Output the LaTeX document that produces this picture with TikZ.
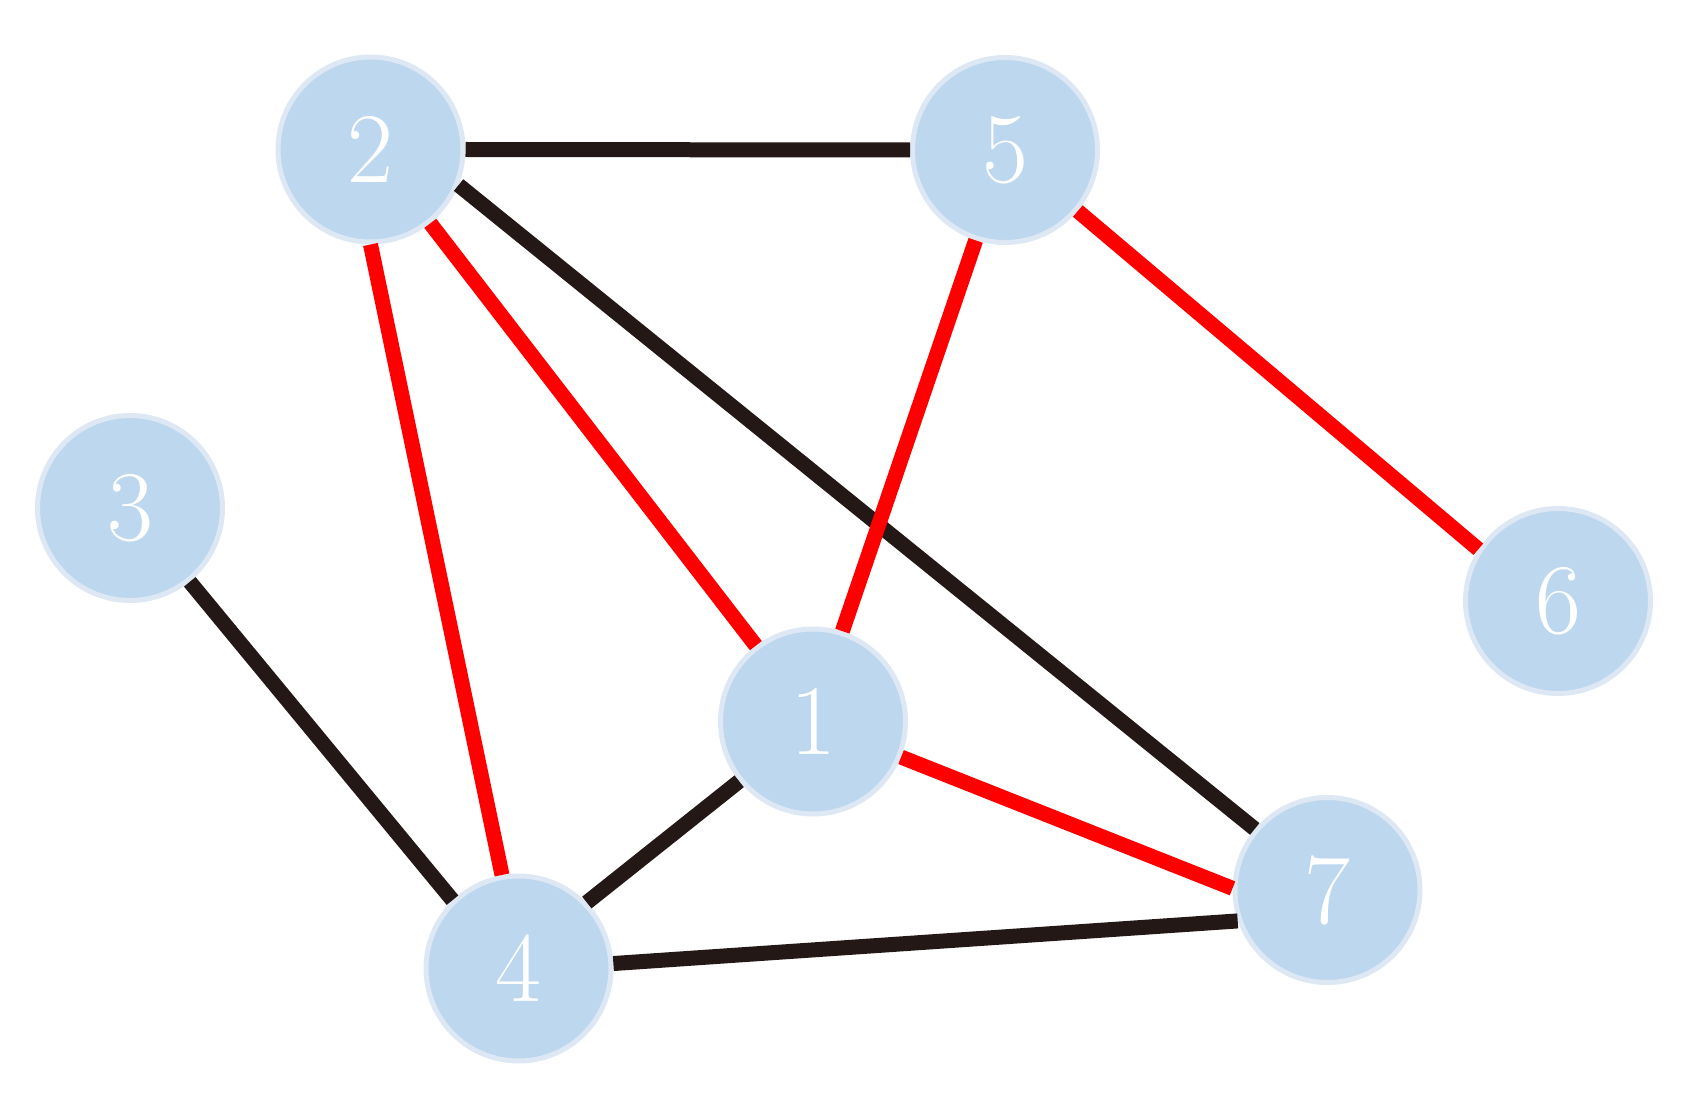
\documentclass[tikz,border=0pt]{standalone}
\usepackage{fontspec}
\newfontfamily\digitfont{lmroman17-regular.otf}
\definecolor{nodefill}{HTML}{BDD7EE}
\definecolor{nodeborder}{HTML}{DDE8F4}
\definecolor{edgeblack}{HTML}{231815}
\definecolor{edgered}{HTML}{FF0000}
\begin{document}
\begin{tikzpicture}[x=1pt,y=-1pt,
  vertex/.style={circle,fill=nodefill,draw=nodeborder,line width=5pt,minimum size=185pt,inner sep=0pt,text=white,font=\digitfont\fontsize{100}{120}\selectfont},
  blk/.style={draw=edgeblack,line width=15pt},
  rd/.style={draw=edgered,line width=15pt}]
\useasboundingbox (0,0) rectangle (1706,1107);
\node[vertex] (n2) at (370.5,149.5) {2};
\node[vertex] (n5) at (1005,150) {5};
\node[vertex] (n3) at (130,508) {3};
\node[vertex] (n6) at (1558,601) {6};
\node[vertex] (n1) at (813,721.5) {1};
\node[vertex] (n7) at (1327.5,890) {7};
\node[vertex] (n4) at (518.5,968.5) {4};
\draw[blk] (n2.0) -- (n5.180);
\draw[blk] (n2.-22) -- (n7.140);
\draw[rd] (n2.-51) -- (n1.127);
\draw[rd] (n2.-90) -- (n4.100);
\draw[rd] (n5.-108) -- (n1.72);
\draw[rd] (n5.-40.5) -- (n6.147);
\draw[blk] (n3.-51.5) -- (n4.134);
\draw[blk] (n4.44.6) -- (n1.-141.5);
\draw[rd] (n1.-22) -- (n7.179);
\draw[blk] (n4.3.5) -- (n7.-161);
\end{tikzpicture}
\end{document}
